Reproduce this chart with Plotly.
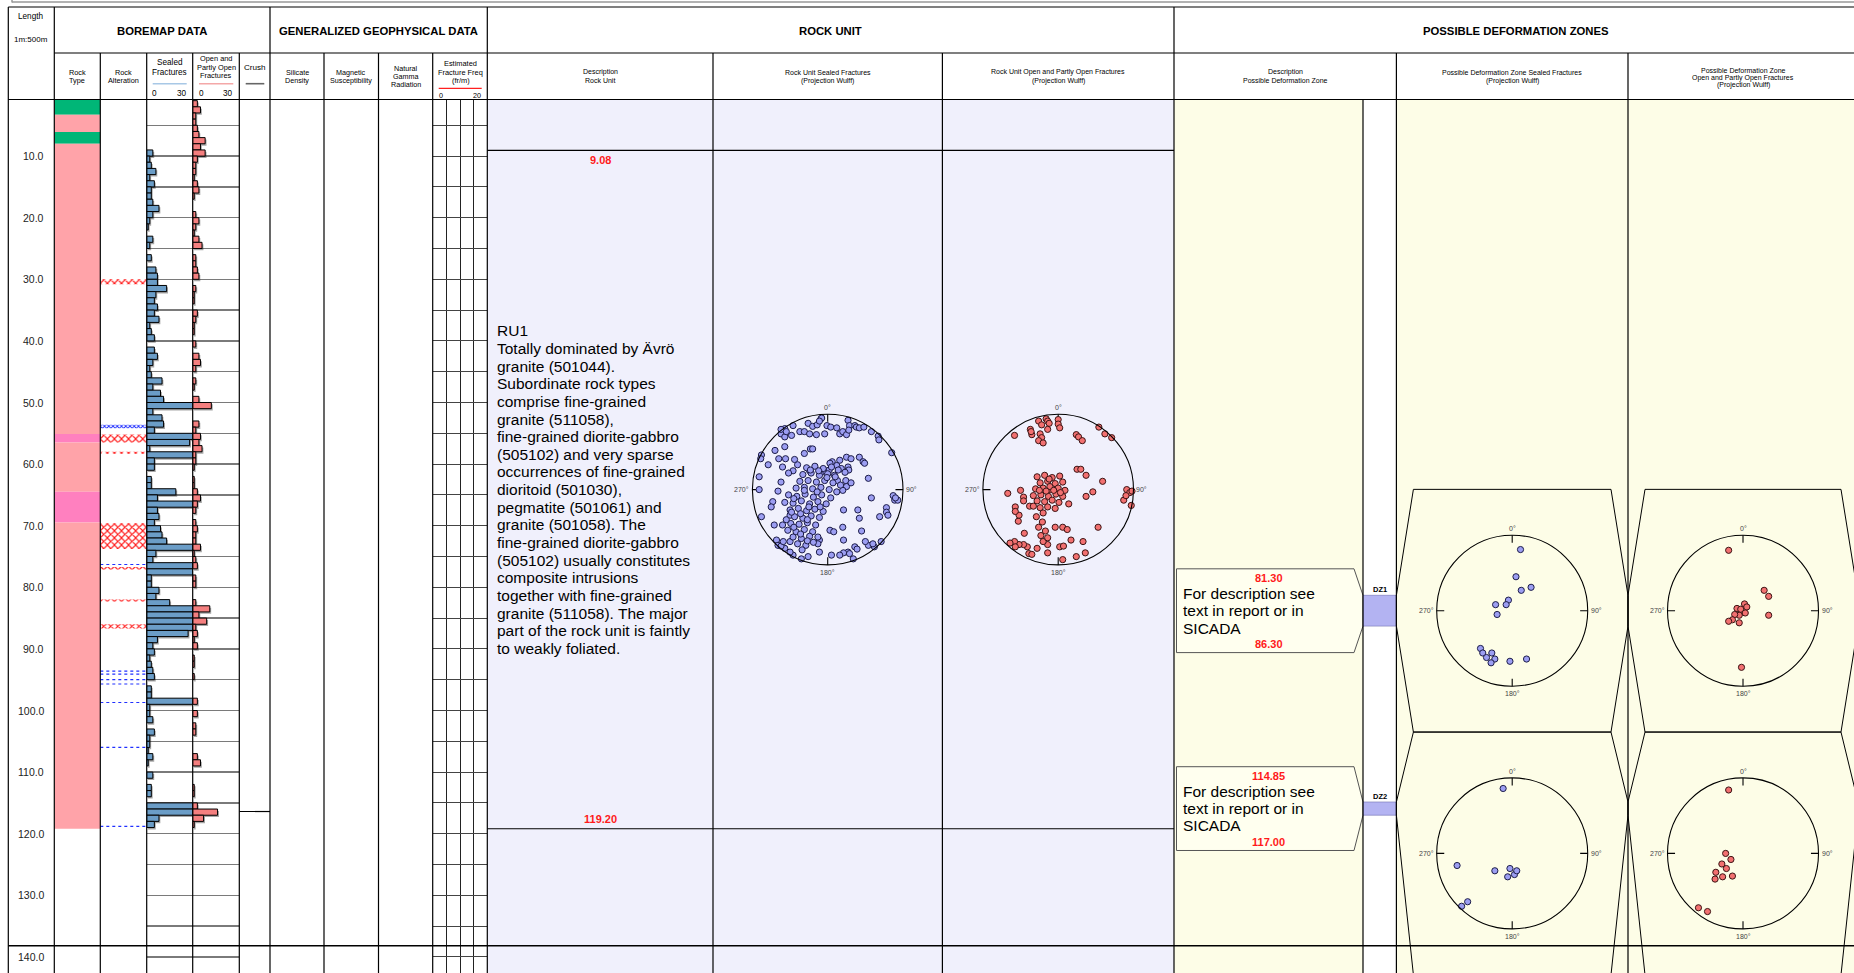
import plotly.graph_objects as go

# ======================= chart data =======================
depth_ticks = [10, 20, 30, 40, 50, 60, 70, 80, 90, 100, 110, 120, 130, 140]

rock_type_from = [0.8, 3.3, 6.1, 8.0, 55.1, 56.5, 64.5, 69.5]
rock_type_to = [3.3, 6.1, 8.0, 55.1, 56.5, 64.5, 69.5, 119.2]
rock_type_code = ["505102", "501044", "505102", "501044", "511058", "501044", "511058", "501044"]

oxidation_from = [30.0, 55.2, 58.0, 69.6, 76.7, 82.0, 86.0]
oxidation_to = [30.8, 56.5, 58.3, 73.8, 77.1, 82.3, 86.7]
epidote_band_from = [53.6]
epidote_band_to = [54.2]
epidote_line_depth = [76.3, 93.6, 94.1, 95.0, 95.7, 98.7, 106.0, 118.8]

crush_depth = [116.4]

sealed_bin_top = list(range(9, 119))
sealed_count = [4, 2, 3, 6, 2, 5, 3, 3, 4, 8,
                4, 2, 1, 0, 4, 2, 0, 3, 0, 6,
                7, 7, 13, 6, 5, 7, 5, 8, 2, 3,
                5, 0, 5, 7, 4, 2, 3, 10, 4, 9,
                11, 30, 4, 10, 11, 5, 30, 28, 2, 30,
                5, 5, 0, 3, 3, 19, 7, 30, 7, 8,
                5, 9, 10, 13, 30, 6, 4, 30, 30, 3,
                3, 8, 6, 15, 30, 30, 30, 30, 27, 7,
                4, 5, 2, 3, 4, 5, 0, 3, 3, 30,
                2, 2, 4, 0, 5, 2, 2, 1, 4, 1,
                0, 4, 0, 3, 3, 0, 30, 30, 8, 5]

open_bin_top = list(range(1, 119))
open_count = [3, 5, 2, 2, 3, 4, 8, 5, 8, 3,
              2, 2, 1, 3, 4, 1, 0, 0, 2, 4,
              2, 1, 4, 6, 0, 2, 2, 3, 4, 0,
              2, 1, 1, 0, 3, 2, 1, 1, 0, 2,
              0, 4, 5, 2, 0, 2, 1, 0, 4, 12,
              0, 0, 4, 2, 5, 4, 6, 2, 2, 1,
              0, 1, 1, 3, 5, 3, 2, 0, 2, 3,
              2, 2, 5, 1, 2, 3, 0, 2, 2, 0,
              0, 2, 11, 4, 9, 2, 3, 1, 3, 0,
              1, 1, 0, 1, 0, 0, 0, 3, 0, 3,
              0, 2, 2, 0, 0, 0, 3, 5, 0, 0,
              0, 1, 1, 0, 3, 16, 7, 1]

ru_from = 9.08
ru_to = 119.20
ru_description = ["RU1", "Totally dominated by Ävrö", "granite (501044).", "Subordinate rock types",
                  "comprise fine-grained", "granite (511058),", "fine-grained diorite-gabbro",
                  "(505102) and very sparse", "occurrences of fine-grained", "dioritoid (501030),",
                  "pegmatite (501061) and", "granite (501058). The", "fine-grained diorite-gabbro",
                  "(505102) usually constitutes", "composite intrusions", "together with fine-grained",
                  "granite (511058). The major", "part of the rock unit is faintly", "to weakly foliated."]

dz_names = ["DZ1", "DZ2"]
dz_from = [81.30, 114.85]
dz_to = [86.30, 117.00]
dz_description = ["For description see", "text in report or in", "SICADA"]

page_break_depth = 138.2

# stereonet poles (projected position, % of net radius)
ru_sealed_poles = [
    (-9, 94), (-8, 95), (-26, 88), (-20, 84), (-14, 86), (-11, 91), (-1, 85), (4, 83), (12, 82), (27, 92),
    (29, 85), (36, 85), (38, 83), (42, 82), (48, 83), (-37, 77), (-31, 77), (-24, 74), (-15, 73), (-4, 74),
    (16, 74), (20, 77), (25, 73), (28, 79), (58, 77), (67, 71), (68, 66), (-57, 81), (-46, 85), (-62, 74),
    (-57, 70), (-48, 72), (-62, 80), (-55, 77), (-70, 52), (-57, 57), (-88, 46), (-89, 41), (-79, 33), (-65, 41),
    (-56, 41), (-31, 48), (-23, 54), (-20, 54), (85, 49), (25, 43), (31, 41), (42, 43), (47, 37), (49, 35),
    (16, 39), (6, 37), (3, 35), (12, 32), (18, 28), (27, 30), (28, 26), (23, 23), (54, 15), (58, -11),
    (87, -8), (89, -14), (93, -14), (90, -11), (-91, 17), (-91, 0), (-88, -36), (-73, -16), (-75, -23), (-71, -47),
    (-60, -47), (-50, -34), (-46, 25), (-24, 25), (-8, 23), (-3, 25), (2, 26), (9, 19), (13, 12), (24, 12),
    (25, 4), (31, 9), (20, -1), (21, -27), (40, -27), (42, -38), (45, -55), (69, -36), (78, -24), (78, -30),
    (80, -34), (71, -69), (62, -76), (54, -74), (50, -69), (60, -72), (36, -76), (39, -79), (27, -83), (29, -85),
    (21, -84), (34, -92), (16, -87), (5, -87), (-11, -83), (-26, -89), (-35, -92), (-46, -87), (-50, -83), (-57, -78),
    (-68, -67), (-66, -74), (-62, -75), (-59, -69), (-50, -69), (3, -54), (8, -56), (21, -67), (-11, -67), (-13, -72),
    (-13, -63), (20, -50), (-40, 33), (-52, 22), (-62, 10), (-44, 40), (-66, -2), (-60, 30),
    (-28, 29), (-17, 31), (-6, 28), (5, 30), (14, 26), (-33, 20), (-22, 22), (-11, 19), (0, 21), (10, 17),
    (-37, 11), (-26, 12), (-15, 10), (-4, 12), (7, 9), (17, 6), (-42, 2), (-31, 3), (-20, 1), (-9, 3),
    (2, 0), (12, -3), (-52, -7), (-41, -9), (-30, -6), (-19, -10), (-8, -7), (4, -11), (-57, -17), (-46, -18),
    (-35, -15), (-24, -19), (-13, -16), (-2, -19), (-50, -27), (-39, -25), (-28, -28), (-17, -26), (-6, -29),
    (-44, -36), (-33, -38), (-22, -35), (-11, -37), (-49, -45), (-38, -46), (-27, -44), (-16, -47), (-53, -54),
    (-42, -56), (-31, -53), (-20, -56), (-46, -63), (-35, -65), (-24, -62), (-40, -72), (-29, -74), (-19, -70),
    (-34, -80), (-23, 26), (-12, 25), (-1, 16), (-31, -1), (-14, -3), (-45, -12), (-25, -23), (-10, -23),
    (-36, -32), (-27, -40), (-45, -50), (-36, -59), (-27, -68), (-48, -30), (-55, -40)]

ru_open_poles = [
    (0, 93), (0, 87), (2, 82), (-26, 91), (-22, 86), (-16, 94), (-14, 91), (-12, 88), (-14, 80), (-24, 74),
    (-22, 69), (-26, 65), (-20, 62), (-37, 80), (-35, 73), (-36, 77), (-58, 72), (24, 73), (27, 70), (32, 65),
    (54, 83), (62, 74), (71, 69), (25, 27), (30, 27), (37, 19), (59, 11), (46, -3), (37, -9), (91, 0),
    (95, -4), (98, -2), (87, -14), (90, -8), (97, -21), (53, -50), (17, -67), (33, -69), (36, -84), (24, -89),
    (6, -93), (2, -76), (7, -75), (6, -50), (12, -53), (-4, -50), (14, -19), (-14, -84), (-14, -73), (-20, -69),
    (-28, -78), (-39, -85), (-35, -86), (-41, -76), (-46, -73), (-52, -73), (-58, -69), (-64, -71), (-57, -76), (-45, -58),
    (-53, -42), (-52, -34), (-57, -23), (-57, -29), (-67, -5), (-50, -1), (-46, -10), (-46, -15), (-38, -22), (-33, -22),
    (-28, 17), (-18, 19), (-8, 16), (2, 18), (-24, 9), (-14, 11), (-4, 8), (6, 10), (-30, 1), (-20, 2),
    (-10, 0), (0, 2), (9, -1), (-33, -8), (-23, -7), (-13, -9), (-3, -6), (6, -9), (-28, -15), (-18, -16),
    (-8, -14), (1, -17), (-24, -24), (-14, -23), (-4, -25), (-20, -31), (-29, -36), (-21, -43), (-26, -50), (-17, -55),
    (-23, -61), (-14, -64), (-11, 4), (-16, -2), (-6, -1), (-12, 14), (3, -4), (-25, -1)]

dz1_sealed_poles = [(11, 81), (5, 45), (25, 31), (12, 27), (-5, 14), (-22, 8), (-8, 8), (-20, -5),
                    (-42, -50), (-39, -56), (-27, -56), (-34, -62), (-23, -64), (-28, -69), (-3, -67), (19, -64)]
dz1_open_poles = [(-19, 80), (28, 27), (34, 19), (2, 9), (-8, 3), (-2, -2), (-5, -6), (-11, -5), (5, 5),
                  (-14, -12), (-5, -16), (-19, -14), (34, -6), (-2, -75), (-3, 2), (3, -3)]
dz2_sealed_poles = [(-12, 86), (-73, -16), (-23, -23), (-3, -20), (3, -28), (-6, -31), (6, -23), (-59, -64), (-67, -70)]
dz2_open_poles = [(-19, 84), (-23, 0), (-16, -8), (-28, -14), (-22, -20), (-36, -25), (-37, -34), (-27, -31),
                  (-14, -30), (-47, -77), (-59, -72)]

# ======================= layout constants =======================
FONT = "Liberation Sans, Arial, sans-serif"
W, H = 1854, 973
DEPTH0_PX = 94.5
PX_PER_M = 6.16
DATA_TOP_PX = 99.5
DATA_BOT_PX = H
D_TOP = (DATA_TOP_PX - DEPTH0_PX) / PX_PER_M
D_BOT = (DATA_BOT_PX - DEPTH0_PX) / PX_PER_M

COL = dict(length=(8.3, 54.3), rock=(54.3, 100.3), alt=(100.3, 146.7), sealed=(146.7, 192.7),
           open=(192.7, 239.3), crush=(239.3, 270.0), sil=(270.0, 324.0), mag=(324.0, 378.5),
           gam=(378.5, 432.7), ff=(432.7, 487.3), ru_desc=(487.3, 713.0), ru_seal=(713.0, 942.4),
           ru_open=(942.4, 1174.0), dz_desc=(1174.0, 1363.0), dz_box=(1363.0, 1396.4),
           dz_seal=(1396.4, 1628.0), dz_open=(1628.0, 1858.0))
RIGHT = 1858.0

ROCK_COLORS = {"505102": "#00b677", "501044": "#ffa3a9", "511058": "#ff80bf"}
SEALED_COLOR = "#6b9dc7"
OPEN_COLOR = "#f47f7f"
RU_BG = "#f0f0fc"
DZ_BG = "#fdfde7"


def dpx(d):
    return DEPTH0_PX + d * PX_PER_M


def fx(x):
    return x / W


def fy(y):
    return 1 - y / H


layout = dict(width=W, height=H, margin=dict(l=0, r=0, t=0, b=0, pad=0), paper_bgcolor="white",
              plot_bgcolor="rgba(0,0,0,0)", showlegend=False, barmode="overlay",
              font=dict(family=FONT, color="black"), hovermode=False)
traces = []
shapes = []
annotations = []


def add_axes(n, x0, x1, xrange, y0=DATA_TOP_PX, y1=DATA_BOT_PX, yrange=None, xgrid=None, ygrid=None):
    sx = "" if n == 1 else str(n)
    base = dict(showticklabels=False, ticks="", zeroline=False, showline=False, fixedrange=True, showgrid=False)
    xa = dict(base, domain=[max(0.0, fx(x0)), min(1.0, fx(x1))], range=xrange, anchor="y" + sx)
    ya = dict(base, domain=[max(0.0, fy(y1)), min(1.0, fy(y0))],
              range=yrange if yrange else [D_BOT, D_TOP], anchor="x" + sx)
    if xgrid:
        xa.update(showgrid=True, dtick=xgrid[0], tick0=0, gridcolor=xgrid[1], gridwidth=xgrid[2])
    if ygrid:
        ya.update(showgrid=True, dtick=ygrid[0], tick0=0, gridcolor=ygrid[1], gridwidth=ygrid[2])
    layout["xaxis" + sx] = xa
    layout["yaxis" + sx] = ya
    traces.append(go.Scatter(x=[None], y=[None], mode="markers", xaxis="x" + sx, yaxis="y" + sx, hoverinfo="skip"))
    return "x" + sx, "y" + sx


def text(t, x, y, size, color="black", bold=False, xanchor="center", yanchor="middle",
         xref="paper", yref="paper", yshift=0, xshift=0):
    annotations.append(dict(text=("<b>%s</b>" % t) if bold else t, x=x, y=y, xref=xref, yref=yref,
                            showarrow=False, xanchor=xanchor, yanchor=yanchor, yshift=yshift, xshift=xshift,
                            borderpad=0, font=dict(size=size, color=color, family=FONT)))


def ptext(t, xpx, ypx, size, **kw):
    text(t, fx(xpx), fy(ypx), size, **kw)


def hline(y, x0, x1, color="black", width=1.2, dash=None, yref="paper"):
    yy = fy(y) if yref == "paper" else y
    shapes.append(dict(type="line", xref="paper", yref=yref, x0=fx(x0), x1=fx(x1), y0=yy, y1=yy,
                       line=dict(color=color, width=width, dash=dash), layer="above"))


def vline(x, y0, y1, color="black", width=1.2):
    shapes.append(dict(type="line", xref="paper", yref="paper", x0=fx(x), x1=fx(x), y0=fy(y0), y1=fy(y1),
                       line=dict(color=color, width=width), layer="above"))


def prect(x0, x1, y0, y1, color):
    shapes.append(dict(type="rect", xref="paper", yref="paper", x0=fx(x0), x1=fx(min(x1, W)), y0=fy(y1), y1=fy(y0),
                       fillcolor=color, line=dict(width=0), layer="below"))


# ======================= backgrounds =======================
prect(COL["ru_desc"][0], COL["ru_open"][1], DATA_TOP_PX, DATA_BOT_PX, RU_BG)
prect(COL["dz_desc"][0], COL["dz_desc"][1], DATA_TOP_PX, DATA_BOT_PX, DZ_BG)
prect(COL["dz_seal"][0], RIGHT, DATA_TOP_PX, DATA_BOT_PX, DZ_BG)

# ======================= boremap columns =======================
xr, yr = add_axes(1, *COL["rock"], [0, 1])
traces.append(go.Bar(x=[0.5] * len(rock_type_from), y=[t - f for f, t in zip(rock_type_from, rock_type_to)],
                     base=rock_type_from, width=1, xaxis=xr, yaxis=yr,
                     marker=dict(color=[ROCK_COLORS[c] for c in rock_type_code], line=dict(width=0))))

xa_, ya_ = add_axes(2, *COL["alt"], [0, 1])
traces.append(go.Bar(x=[0.5] * len(oxidation_from), y=[t - f for f, t in zip(oxidation_from, oxidation_to)],
                     base=oxidation_from, width=1, xaxis=xa_, yaxis=ya_,
                     marker=dict(color="white", line=dict(width=0),
                                 pattern=dict(shape="x", fgcolor="#ff1a1a", bgcolor="white", size=5,
                                              solidity=0.4, fillmode="replace"))))
traces.append(go.Bar(x=[0.5] * len(epidote_band_from), y=[t - f for f, t in zip(epidote_band_from, epidote_band_to)],
                     base=epidote_band_from, width=1, xaxis=xa_, yaxis=ya_,
                     marker=dict(color="white", line=dict(width=0),
                                 pattern=dict(shape="x", fgcolor="#1a2aff", bgcolor="white", size=3,
                                              solidity=0.5, fillmode="replace"))))
ex, ey = [], []
for d in epidote_line_depth:
    ex += [0, 1, None]
    ey += [d, d, None]
traces.append(go.Scatter(x=ex, y=ey, mode="lines", xaxis=xa_, yaxis=ya_,
                         line=dict(color="#2030ff", width=1.2, dash="dot")))

for n, key, tops, counts, col in [(3, "sealed", sealed_bin_top, sealed_count, SEALED_COLOR),
                                  (4, "open", open_bin_top, open_count, OPEN_COLOR)]:
    xs, ys = add_axes(n, *COL[key], [0, 30], ygrid=(5, "#7a7a7a", 1.3))
    yy = [t + 0.5 for t, c in zip(tops, counts) if c > 0]
    vv = [c for c in counts if c > 0]
    traces.append(go.Bar(x=vv, y=[v + 0.3 for v in yy], base=0.9, orientation="h", width=1, xaxis=xs, yaxis=ys,
                         marker=dict(color="rgba(0,0,0,0.35)", line=dict(width=0))))
    traces.append(go.Bar(x=vv, y=yy, orientation="h", width=1, xaxis=xs, yaxis=ys,
                         marker=dict(color=col, line=dict(color="black", width=1))))

xc_, yc_ = add_axes(5, *COL["crush"], [0, 1])
cx_, cy_ = [], []
for d in crush_depth:
    cx_ += [0, 1, None]
    cy_ += [d, d, None]
traces.append(go.Scatter(x=cx_, y=cy_, mode="lines", xaxis=xc_, yaxis=yc_, line=dict(color="black", width=1.2)))

add_axes(6, *COL["ff"], [0, 20], xgrid=(5, "#222222", 1), ygrid=(5, "#444444", 1.1))

# ======================= deformation-zone marker column =======================
xb, yb = add_axes(7, *COL["dz_box"], [0, 1])
traces.append(go.Bar(x=[0.5] * len(dz_from), y=[t - f for f, t in zip(dz_from, dz_to)], base=dz_from, width=1,
                     xaxis=xb, yaxis=yb, marker=dict(color="#b3b3f2", line=dict(color="#7070b0", width=0.6))))
for name, f in zip(dz_names, dz_from):
    text(name, fx(sum(COL["dz_box"]) / 2), f, 7.5, bold=True, yref="y", yshift=5.5)

# ======================= stereonets =======================


def stereonet(n, cx, cy, r, poles, fill, edge):
    k = 1.25
    half = r * k
    xs, ys = add_axes(n, cx - half, cx + half, [-k, k], cy - half, cy + half, [-k, k])
    shapes.append(dict(type="circle", xref=xs, yref=ys, x0=-1, x1=1, y0=-1, y1=1,
                       line=dict(color="black", width=1.1), layer="above"))
    t = 0.9
    traces.append(go.Scatter(x=[0, 0, None, 1, t, None, 0, 0, None, -1, -t],
                             y=[1, t, None, 0, 0, None, -1, -t, None, 0, 0],
                             mode="lines", line=dict(color="black", width=1.1), xaxis=xs, yaxis=ys))
    traces.append(go.Scatter(x=[p[0] / 100 for p in poles], y=[p[1] / 100 for p in poles], mode="markers",
                             xaxis=xs, yaxis=ys, marker=dict(size=6.2, color=fill, line=dict(color=edge, width=1))))
    lc = "#444444"
    text("0°", 0, 1, 7, color=lc, xref=xs, yref=ys, yanchor="bottom", yshift=2)
    text("180°", 0, -1, 7, color=lc, xref=xs, yref=ys, yanchor="top", yshift=-3)
    text("90°", 1, 0, 7, color=lc, xref=xs, yref=ys, xanchor="left", xshift=2)
    text("270°", -1, 0, 7, color=lc, xref=xs, yref=ys, xanchor="right", xshift=-2)


SEAL_FILL, SEAL_EDGE = "#9c9ef2", "#1c1c48"
OPEN_FILL, OPEN_EDGE = "#f27070", "#3c1414"
ru_cy = dpx((ru_from + ru_to) / 2)
stereonet(8, sum(COL["ru_seal"]) / 2, ru_cy, 75.3, ru_sealed_poles, SEAL_FILL, SEAL_EDGE)
stereonet(9, sum(COL["ru_open"]) / 2, ru_cy, 75.3, ru_open_poles, OPEN_FILL, OPEN_EDGE)

DZ_NET_HALF_M = 19.7
DZ_BOX_HALF_M = 6.8
INSET = 17.0
prev_bot = -1e9
dz_nets = [(dz1_sealed_poles, dz1_open_poles), (dz2_sealed_poles, dz2_open_poles)]
for i, (f, t) in enumerate(zip(dz_from, dz_to)):
    c = (f + t) / 2
    top = max(c - DZ_NET_HALF_M, prev_bot)
    bot = top + 2 * DZ_NET_HALF_M
    prev_bot = bot
    for key in ("dz_seal", "dz_open"):
        a, b = COL[key]
        path = "M %f,%f L %f,%f L %f,%f L %f,%f L %f,%f L %f,%f L %f,%f L %f,%f Z" % (
            fx(a), f, fx(a + INSET), top, fx(b - INSET), top, fx(b), f, fx(b), t,
            fx(b - INSET), bot, fx(a + INSET), bot, fx(a), t)
        shapes.append(dict(type="path", xref="paper", yref="y", path=path,
                           line=dict(color="black", width=1), layer="above"))
    ncy = dpx((top + bot) / 2)
    stereonet(10 + 2 * i, sum(COL["dz_seal"]) / 2, ncy, 75.5, dz_nets[i][0], SEAL_FILL, SEAL_EDGE)
    stereonet(11 + 2 * i, sum(COL["dz_open"]) / 2, ncy, 75.5, dz_nets[i][1], OPEN_FILL, OPEN_EDGE)
    # description box pointing at the zone
    x0, x1, xe = COL["dz_desc"][0] + 2.5, COL["dz_desc"][1] - 9, COL["dz_desc"][1]
    btop, bbot = c - DZ_BOX_HALF_M, c + DZ_BOX_HALF_M
    path = "M %f,%f L %f,%f L %f,%f L %f,%f L %f,%f L %f,%f Z" % (
        fx(x0), btop, fx(x1), btop, fx(xe), f, fx(xe), t, fx(x1), bbot, fx(x0), bbot)
    shapes.append(dict(type="path", xref="paper", yref="y", path=path, fillcolor="#ffffef",
                       line=dict(color="#555555", width=1), layer="below"))
    xmid = fx(sum(COL["dz_desc"]) / 2)
    text("%.2f" % f, xmid, c, 11, color="#ff1a1a", bold=True, yref="y", yshift=33)
    text("%.2f" % t, xmid, c, 11, color="#ff1a1a", bold=True, yref="y", yshift=-33)
    nl = len(dz_description)
    for j, line in enumerate(dz_description):
        text(line, fx(1181.5), c, 15.5, xanchor="left", yref="y", yshift=-(j - (nl - 1) / 2) * 17.3)

# ======================= rock unit text =======================
ru_c = (ru_from + ru_to) / 2
nl = len(ru_description)
for j, line in enumerate(ru_description):
    text(line, fx(495.5), ru_c, 15.5, xanchor="left", yref="y", yshift=-(j - (nl - 1) / 2) * 17.65)
ru_mid = fx(sum(COL["ru_desc"]) / 2)
text("%.2f" % ru_from, ru_mid, ru_from, 11, color="#ff1a1a", bold=True, yref="y", yshift=-9.6)
text("%.2f" % ru_to, ru_mid, ru_to, 11, color="#ff1a1a", bold=True, yref="y", yshift=9.4)
for d in (ru_from, ru_to):
    hline(d, COL["ru_desc"][0], COL["ru_open"][1], yref="y")

# ======================= depth labels =======================
for d in depth_ticks:
    text("%.1f" % d, fx(44.5), d, 10.5, color="#222222", xanchor="right", yref="y")

# ======================= grid / frame lines =======================
hline(2, 12, RIGHT, color="#999999", width=1.5)
vline(12, 0, 2.5, color="#999999", width=1.5)
hline(7, COL["length"][0], RIGHT)
hline(53, COL["rock"][0], RIGHT)
hline(DATA_TOP_PX, COL["length"][0], RIGHT)
for x in (COL["length"][0], COL["rock"][0], COL["crush"][1], COL["ru_desc"][0], COL["dz_desc"][0]):
    vline(x, 7, H)
for x in (COL["alt"][0], COL["sealed"][0], COL["open"][0], COL["crush"][0], COL["mag"][0], COL["gam"][0],
          COL["ff"][0], COL["ru_seal"][0], COL["ru_open"][0], COL["dz_seal"][0], COL["dz_open"][0]):
    vline(x, 53, H)
vline(COL["dz_box"][0], DATA_TOP_PX, H)
hline(page_break_depth, COL["length"][0], RIGHT, width=1.6, yref="y")

# ======================= header texts =======================
ptext("Length", 30.8, 16, 8.2)
ptext("1m:500m", 30.8, 39.3, 8)
ptext("BOREMAP DATA", 162.2, 31, 11.3, bold=True)
ptext("GENERALIZED GEOPHYSICAL DATA", 378.6, 31, 11.3, bold=True)
ptext("ROCK UNIT", 830.6, 31, 11.3, bold=True)
ptext("POSSIBLE DEFORMATION ZONES", 1516, 31, 11.3, bold=True)


def header_lines(lines, xc, ys, size):
    for ln, y in zip(lines, ys):
        ptext(ln, xc, y, size)


header_lines(["Rock", "Type"], 77.3, [72.3, 80.3], 7.3)
header_lines(["Rock", "Alteration"], 123.5, [72.3, 80.3], 7.3)
header_lines(["Sealed", "Fractures"], 169.7, [62.7, 72.0], 8.2)
header_lines(["Open and", "Partly Open", "Fractures"], 216.0, [58.7, 67.3, 75.7], 7.4)
header_lines(["Crush"], 255.0, [67.3], 8.1)
header_lines(["Silicate", "Density"], 297.0, [72.3, 80.3], 7.2)
header_lines(["Magnetic", "Susceptibility"], 351.2, [72.3, 80.3], 7.2)
header_lines(["Natural", "Gamma", "Radiation"], 405.6, [68.3, 76.6, 84.9], 7.2)
header_lines(["Estimated", "Fracture Freq", "(fr/m)"], 460.7, [63.0, 72.0, 80.5], 7.4)
hline(83.7, 152.7, 186.7, color="#a8c8e6", width=1.6)
hline(83.7, 199.0, 233.3, color="#f4a8a8", width=1.6)
hline(83.7, 245.7, 264.3, color="#666666", width=1.6)
hline(88.3, 438.7, 481.7, color="#ff2020", width=1.2)
ptext("0", 154.3, 93.3, 8.2)
ptext("30", 181.7, 93.3, 8.2)
ptext("0", 201.0, 93.3, 8.2)
ptext("30", 228.3, 93.3, 8.2)
ptext("0", 440.7, 95.3, 7.2)
ptext("20", 477.3, 95.3, 7.2)

header_lines(["Description", "Rock Unit"], sum(COL["ru_desc"]) / 2, [72.1, 80.6], 7.0)
header_lines(["Rock Unit Sealed Fractures", "(Projection Wulff)"], sum(COL["ru_seal"]) / 2, [72.1, 80.6], 7.0)
header_lines(["Rock Unit Open and Partly Open Fractures", "(Projection Wulff)"], sum(COL["ru_open"]) / 2,
             [72.1, 80.6], 7.0)
header_lines(["Description", "Possible Deformation Zone"], (COL["dz_desc"][0] + COL["dz_box"][1]) / 2,
             [72.1, 80.6], 7.0)
header_lines(["Possible Deformation Zone Sealed Fractures", "(Projection Wulff)"], sum(COL["dz_seal"]) / 2,
             [72.1, 80.6], 7.0)
header_lines(["Possible Deformation Zone", "Open and Partly Open Fractures", "(Projection Wulff)"],
             sum(COL["dz_open"]) / 2, [70.8, 78.0, 85.2], 7.0)

layout["shapes"] = shapes
layout["annotations"] = annotations
fig = go.Figure(data=traces)
fig.update_layout(**layout)
fig.write_html("out.html", config={"displayModeBar": False, "staticPlot": True},
               post_script="document.body.style.margin='0';document.body.style.overflow='hidden';")
